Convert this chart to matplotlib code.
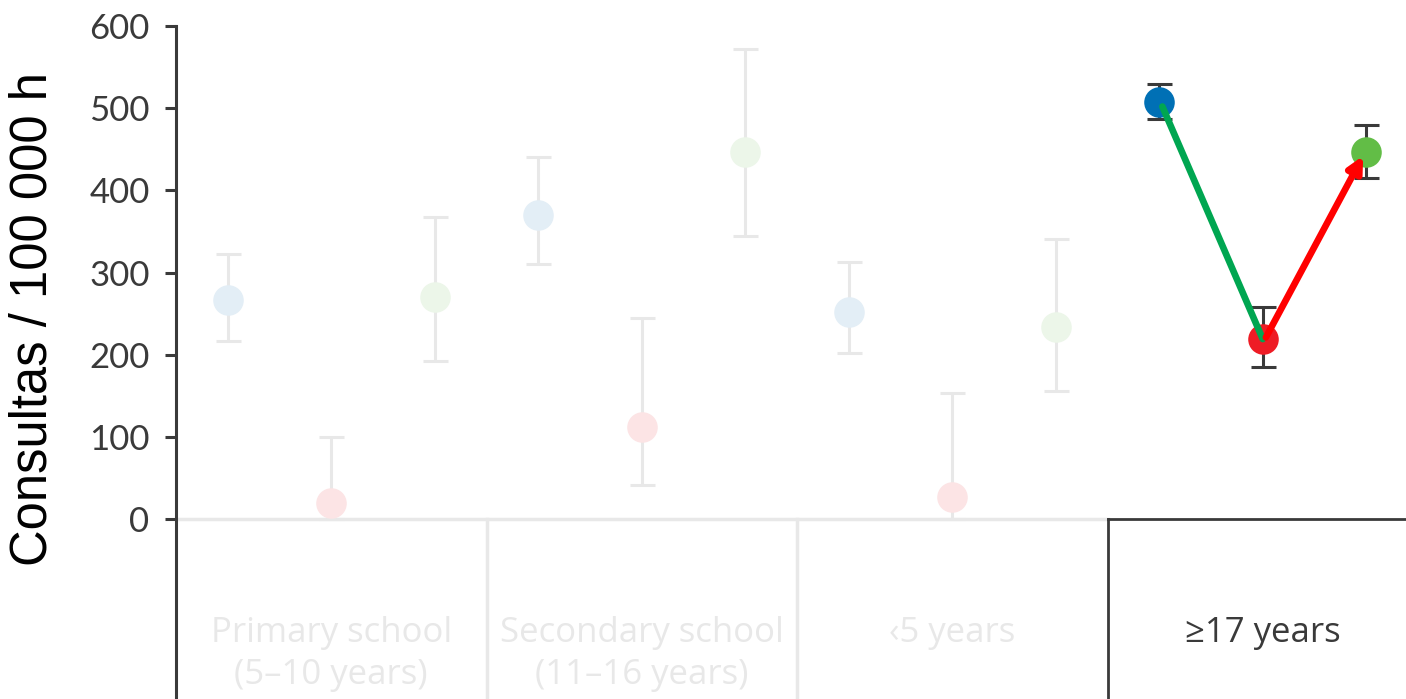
import matplotlib.pyplot as plt
import numpy as np

# dados
grupos = ['Primary school\n(5–10 years)', 'Secondary school\n(11–16 years)', '‹5 years', '≥17 years']
media_azul = [266, 370, 252, 507]
sup_azul = [323, 440, 313, 529]
inf_azul = [217, 310, 202, 487]
media_verm = [19, 112, 27, 219]
sup_verm = [100, 245, 153, 258]
inf_verm = [0, 41, 0, 185]
media_verde = [270, 447, 234, 447]
sup_verde = [368, 572, 341, 479]
inf_verde = [192, 344, 156, 415]

cores_fortes = ['#0070b5', '#ee1c25', '#62bd46']
cores_fracas = ['#e3eef6', '#fce4e5', '#ecf6e9']
cinza = '#e8e8e8'
escuro = '#3a3a3a'

fig = plt.figure(figsize=(14.06, 6.99), dpi=100)
ax = fig.add_axes([176/1406, 0, 1242/1406, 673/699])
ax.set_xlim(0, 4)
ax.set_ylim(-219, 600)

series = [(media_azul, sup_azul, inf_azul), (media_verm, sup_verm, inf_verm), (media_verde, sup_verde, inf_verde)]
for j, (m, s, i_) in enumerate(series):
    for g in range(4):
        x = g + (2*j + 1) / 6
        ativo = (g == 3)
        cor_err = escuro if ativo else cinza
        cor_pt = cores_fortes[j] if ativo else cores_fracas[j]
        ax.errorbar([x], [m[g]], yerr=[[m[g] - i_[g]], [s[g] - m[g]]], fmt='none',
                    ecolor=cor_err, elinewidth=2.2, capsize=9, capthick=2.2, zorder=2)
        ax.plot([x], [m[g]], 'o', ms=22, color=cor_pt, mec='none', zorder=3)

# setas do grupo ativo
xa, xv, xg = 3 + 1/6, 3 + 3/6, 3 + 5/6
ax.annotate('', xy=(xv, media_verm[3]), xytext=(xa + 0.01, media_azul[3] - 5),
            arrowprops=dict(arrowstyle='-', color='#00a651', lw=4.8, shrinkA=0, shrinkB=0), zorder=5)
ax.annotate('', xy=(xg - 0.01, media_verde[3] - 5), xytext=(xv + 0.01, media_verm[3] + 2),
            arrowprops=dict(arrowstyle='-|>,head_length=0.9,head_width=0.45', color='#ff0000', lw=4.8,
                            shrinkA=0, shrinkB=0), zorder=5)

# linhas de base e separadores
ax.plot([0, 3], [0, 0], color=cinza, lw=2.5, zorder=1)
ax.plot([3, 4], [0, 0], color=escuro, lw=2, zorder=1)
for g in [1, 2]:
    ax.plot([g, g], [0, -219], color=cinza, lw=2.5, zorder=1)
ax.plot([3, 3], [0, -219], color=escuro, lw=2, zorder=1)

for g, nome in enumerate(grupos):
    cor = escuro if g == 3 else cinza
    if '\n' in nome:
        l1, l2 = nome.split('\n')
        ax.text(g + 0.5, -139, l1, ha='center', va='center', fontsize=25, color=cor, family='Open Sans')
        ax.text(g + 0.5, -190, l2, ha='center', va='center', fontsize=25, color=cor, family='Open Sans')
    else:
        ax.text(g + 0.5, -139, nome, ha='center', va='center', fontsize=25, color=cor, family='Open Sans')

for lado in ['top', 'right', 'bottom']:
    ax.spines[lado].set_visible(False)
ax.spines['left'].set_color(escuro)
ax.spines['left'].set_linewidth(2.2)
ax.set_xticks([])
ax.set_yticks([0, 100, 200, 300, 400, 500, 600])
ax.tick_params(axis='y', length=8, width=2.2, color=escuro, labelsize=25, labelcolor=escuro, pad=11)
for t in ax.get_yticklabels():
    t.set_family('Lato')

fig.text(33/1406, 1 - 319/699, 'Consultas / 100 000 h', rotation=90, ha='center', va='center',
         fontsize=36.5, family='Liberation Sans', color='black')

fig.savefig('out.png', dpi=100)
